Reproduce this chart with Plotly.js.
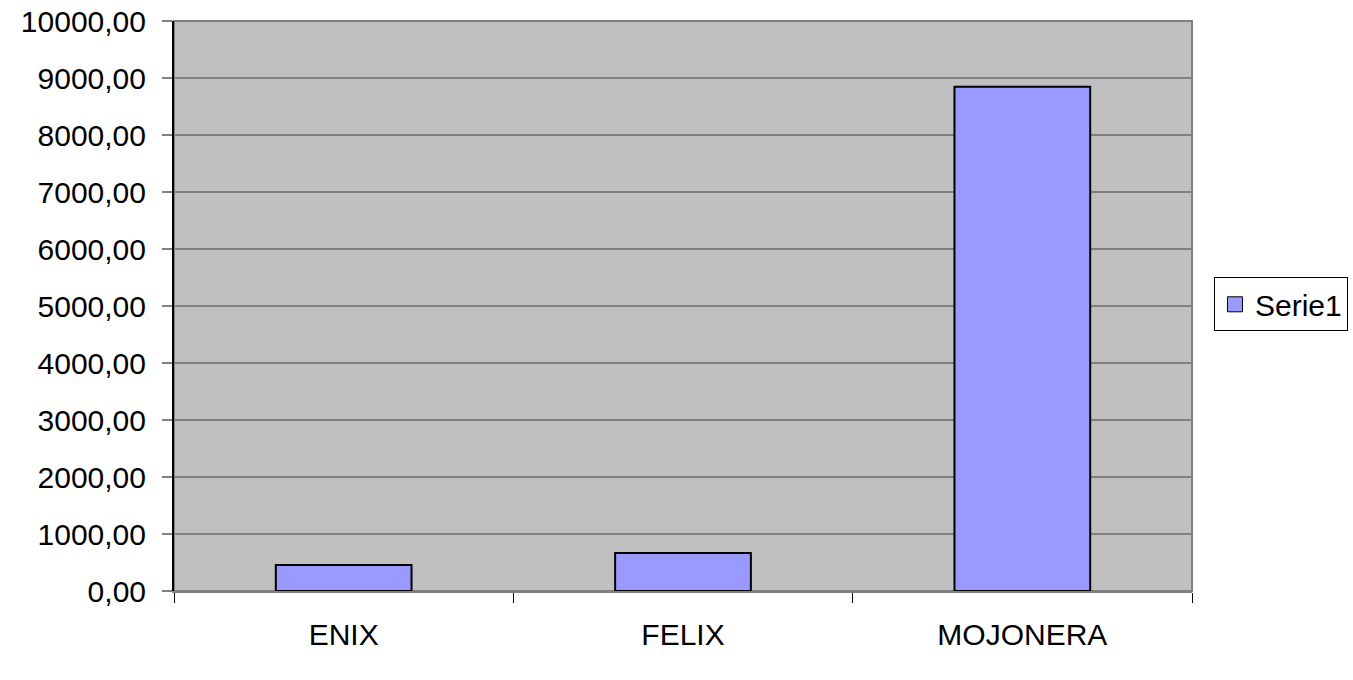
<!DOCTYPE html>
<html>
<head>
<meta charset="utf-8">
<script src="https://cdn.plot.ly/plotly-3.0.1.min.js"></script>
<style>html,body{margin:0;padding:0;background:#fff;}#chart{width:1353px;height:680px;}</style>
</head>
<body>
<div id="chart"></div>
<script>
const categories = ["ENIX", "FELIX", "MOJONERA"];
const serie1 = [456, 667, 8847];
const seriesName = "Serie1";
const yTicks = [0, 1000, 2000, 3000, 4000, 5000, 6000, 7000, 8000, 9000, 10000];

const barTrace = {
  type: "bar",
  x: categories,
  y: serie1,
  name: seriesName,
  marker: {color: "#9999FF", line: {color: "#000000", width: 2}},
  showlegend: false,
  hoverinfo: "x+y"
};
// legend-only entry with a larger square swatch
const legendTrace = {
  type: "scatter",
  mode: "markers",
  x: [null],
  y: [null],
  name: seriesName,
  marker: {symbol: "square", size: 15, color: "#9999FF", line: {color: "#000000", width: 1}},
  showlegend: true,
  hoverinfo: "skip"
};

const layout = {
  width: 1353, height: 680,
  margin: {l: 174, r: 161, t: 21, b: 89, pad: 0, autoexpand: false},
  paper_bgcolor: "#FFFFFF",
  plot_bgcolor: "#C0C0C0",
  separators: ",.",
  font: {family: "Liberation Sans, Arial, sans-serif", size: 30, color: "#000000"},
  bargap: 0.6,
  showlegend: true,
  legend: {
    x: 1.0216, xanchor: "left", y: 0.503, yanchor: "middle",
    bgcolor: "#FFFFFF", bordercolor: "#000000", borderwidth: 1,
    font: {size: 30, color: "#000000"},
    itemwidth: 30,
    tracegroupgap: 0
  },
  xaxis: {
    type: "category",
    showgrid: false,
    showline: true, linecolor: "#808080", linewidth: 2,
    ticks: "outside", tickson: "boundaries", ticklen: 10, tickcolor: "#000000", tickwidth: 1,
    tickfont: {size: 30, color: "#000000"},
    ticklabelstandoff: 16,
    zeroline: false,
    automargin: false,
    fixedrange: true
  },
  yaxis: {
    range: [0, 10000],
    tickvals: yTicks,
    tickformat: ".2f",
    showgrid: true, gridcolor: "#808080", gridwidth: 1.5,
    showline: true, linecolor: "#000000", linewidth: 2,
    ticks: "outside", ticklen: 10, tickcolor: "#808080", tickwidth: 1.5,
    tickfont: {size: 30, color: "#000000"},
    ticklabelstandoff: 10,
    zeroline: false,
    automargin: false,
    fixedrange: true
  },
  shapes: [{
    type: "rect", xref: "paper", yref: "paper", x0: 0, x1: 1, y0: 0, y1: 1,
    line: {color: "#808080", width: 2}, fillcolor: "rgba(0,0,0,0)", layer: "below"
  }]
};

Plotly.newPlot("chart", [barTrace, legendTrace], layout, {displayModeBar: false, staticPlot: true});
</script>
</body>
</html>
